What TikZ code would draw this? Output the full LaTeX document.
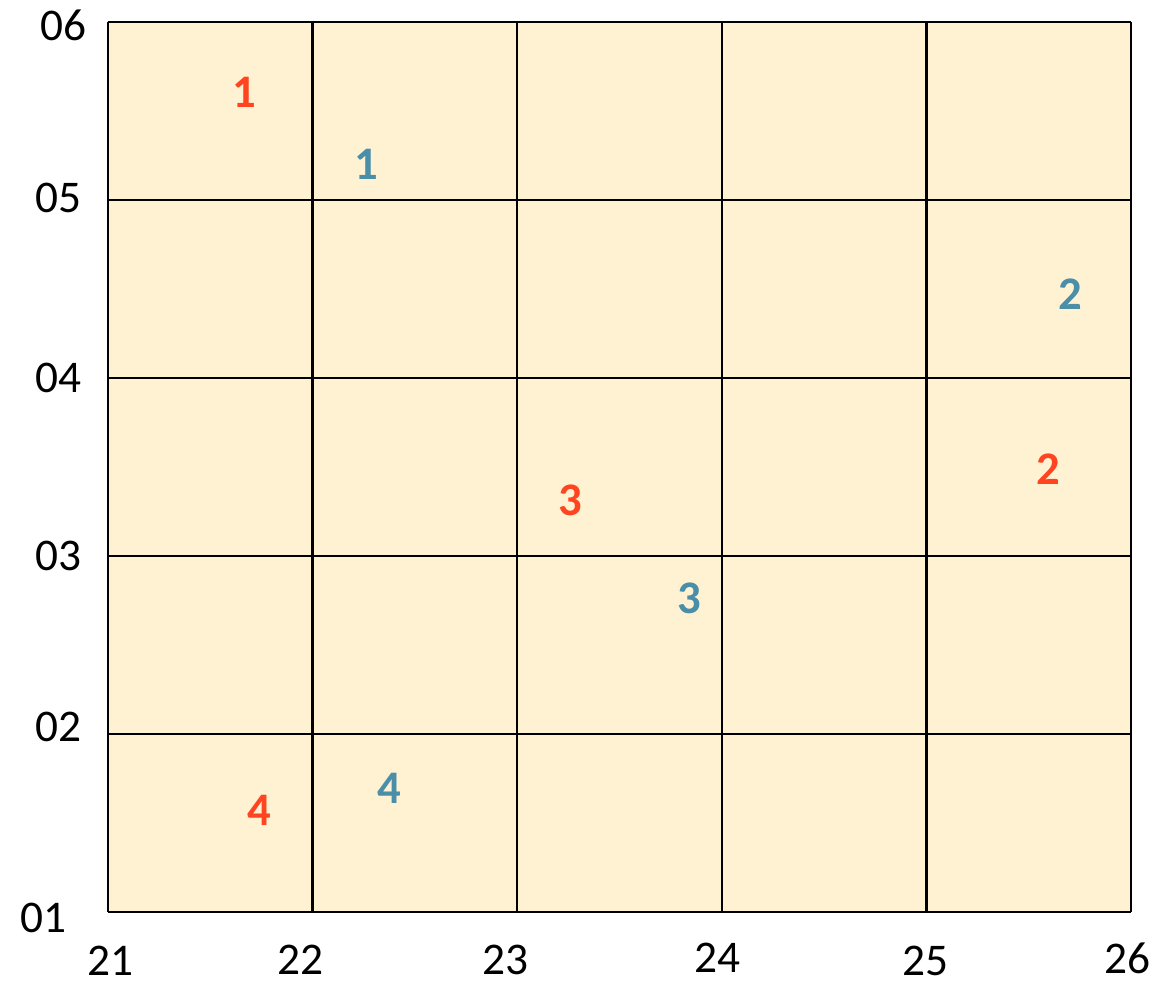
\documentclass[tikz,border=0pt]{standalone}
\usepackage{fontspec}
\setmainfont{Carlito}
\definecolor{cellfill}{HTML}{FFF2D3}
\definecolor{redn}{HTML}{FF4520}
\definecolor{bluen}{HTML}{4A8EA8}
\begin{document}
\begin{tikzpicture}[x=0.75pt,y=-0.75pt,
  axis/.style={font=\fontsize{34}{40}\selectfont, inner sep=0pt},
  rmark/.style={font=\fontsize{35}{40}\selectfont\bfseries, text=redn, inner sep=0pt},
  bmark/.style={font=\fontsize{35}{40}\selectfont\bfseries, text=bluen, inner sep=0pt},
  gridline/.style={line width=1.9pt, black}]
\useasboundingbox (0,0) rectangle (1171,981);
\fill[cellfill] (108,22) rectangle (1131,912);
\foreach \x in {108,312.6,517.2,721.8,926.4,1131} \draw[gridline] (\x,22) -- (\x,912);
\foreach \y in {22,200,378,556,734,912} \draw[gridline] (108,\y) -- (1131,\y);
% y axis labels
\node[axis] (y6) at (63,25) {06};
\node[axis] (y5) at (58,198) {05};
\node[axis] (y4) at (58,378) {04};
\node[axis] (y3) at (58,556) {03};
\node[axis] (y2) at (58,727) {02};
\node[axis] (y1) at (43,918) {01};
% x axis labels
\node[axis] (x1) at (110,961) {21};
\node[axis] (x2) at (300,960) {22};
\node[axis] (x3) at (505,960) {23};
\node[axis] (x4) at (717,958) {24};
\node[axis] (x5) at (925,961) {25};
\node[axis] (x6) at (1127,958) {26};
% markers
\node[rmark] (r1) at (244,92) {1};
\node[bmark] (b1) at (366,164) {1};
\node[bmark] (b2) at (1070,294) {2};
\node[rmark] (r2) at (1048,469) {2};
\node[rmark] (r3) at (570,500) {3};
\node[bmark] (b3) at (689,598) {3};
\node[rmark] (r4) at (259,810) {4};
\node[bmark] (b4) at (389,788) {4};
\end{tikzpicture}
\end{document}
